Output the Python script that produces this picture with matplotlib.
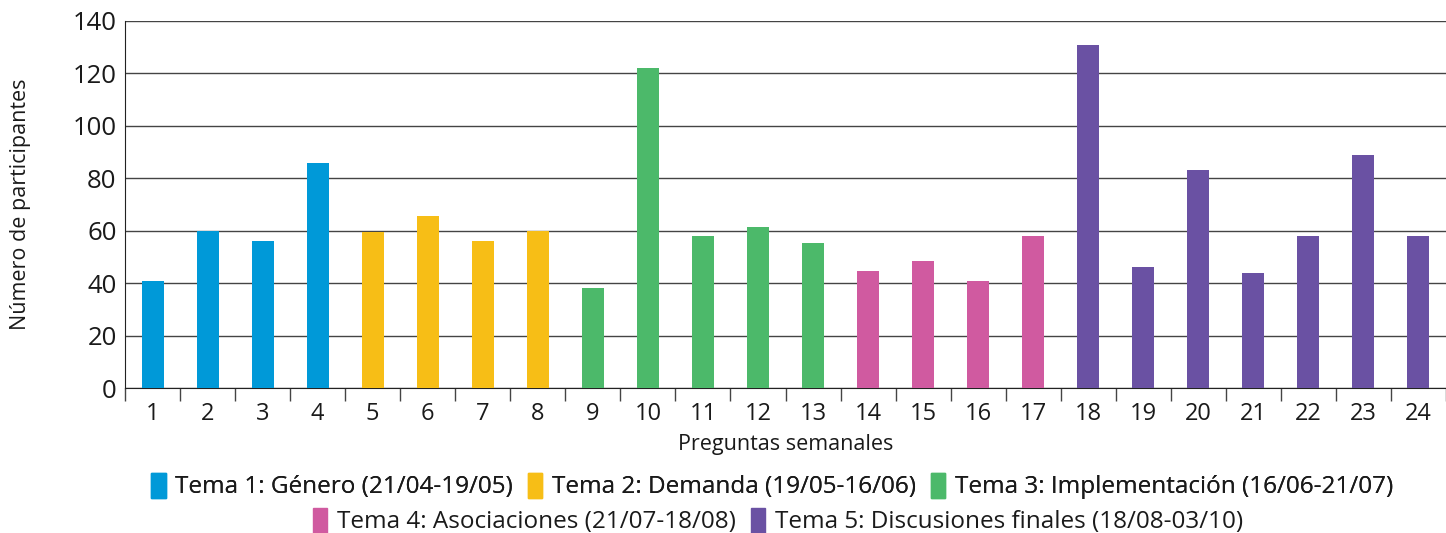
import matplotlib.pyplot as plt
from matplotlib.patches import Patch

plt.rcParams['font.family'] = ['Open Sans', 'DejaVu Sans']

# semanas y participantes
semanas = list(range(1, 25))
participantes = [41, 60, 56, 86, 59.5, 65.5, 56, 60, 38, 122, 58, 61.5,
                 55.5, 44.5, 48.5, 41, 58, 131, 46, 83, 44, 58, 89, 58]
tema_idx = [0] * 4 + [1] * 4 + [2] * 5 + [3] * 4 + [4] * 7

temas = ['Tema 1: Género (21/04-19/05)',
         'Tema 2: Demanda (19/05-16/06)',
         'Tema 3: Implementación (16/06-21/07)',
         'Tema 4: Asociaciones (21/07-18/08)',
         'Tema 5: Discusiones finales (18/08-03/10)']
colores = ['#0099D8', '#F7BE16', '#4CB96A', '#D05AA0', '#6A51A3']

fig = plt.figure(figsize=(14.46, 5.33), dpi=100)
ax = fig.add_axes([125 / 1446, 1 - 388 / 533, (1446 - 125) / 1446, (388 - 21) / 533])

pos = list(range(len(semanas)))
ax.bar(pos, participantes, width=0.4,
       color=[colores[t] for t in tema_idx], zorder=3)

ax.set_xlim(-0.5, len(semanas) - 0.5)
ax.set_ylim(0, 140)
ax.set_yticks(range(0, 141, 20))
ax.yaxis.grid(True, color='#444444', linewidth=1, zorder=0)
ax.tick_params(axis='y', length=0, labelsize=18.5, colors='#1a1a1a', pad=6)

ax.set_xticks(pos)
ax.set_xticklabels([str(s) for s in semanas])
ax.set_xticks([p - 0.5 for p in pos] + [len(pos) - 0.5], minor=True)
ax.tick_params(axis='x', which='major', length=0, labelsize=17, colors='#1a1a1a', pad=10)
ax.tick_params(axis='x', which='minor', length=9, width=1, color='#444444', direction='out')

for s in ['top', 'right']:
    ax.spines[s].set_visible(False)
ax.spines['left'].set_color('#222222')
ax.spines['bottom'].set_color('#222222')

ax.set_xlabel('Preguntas semanales', fontsize=15.5, color='#1a1a1a', labelpad=6)
ax.set_ylabel('Número de participantes', fontsize=15.5, color='#1a1a1a', labelpad=30)

h = [Patch(color=c) for c in colores]
kw = dict(frameon=False, fontsize=17.5, handlelength=0.6, handleheight=1.2,
          handletextpad=0.4, columnspacing=0.6, labelcolor='#1a1a1a')
leg1 = fig.legend(h[:3], temas[:3], loc='center', bbox_to_anchor=(0.534, 1 - 486 / 533),
                  ncol=3, **kw)
leg2 = fig.legend(h[3:], temas[3:], loc='center', bbox_to_anchor=(0.538, 1 - 521 / 533),
                  ncol=2, **kw)
fig.add_artist(leg1)

fig.savefig('out.png', dpi=100)
